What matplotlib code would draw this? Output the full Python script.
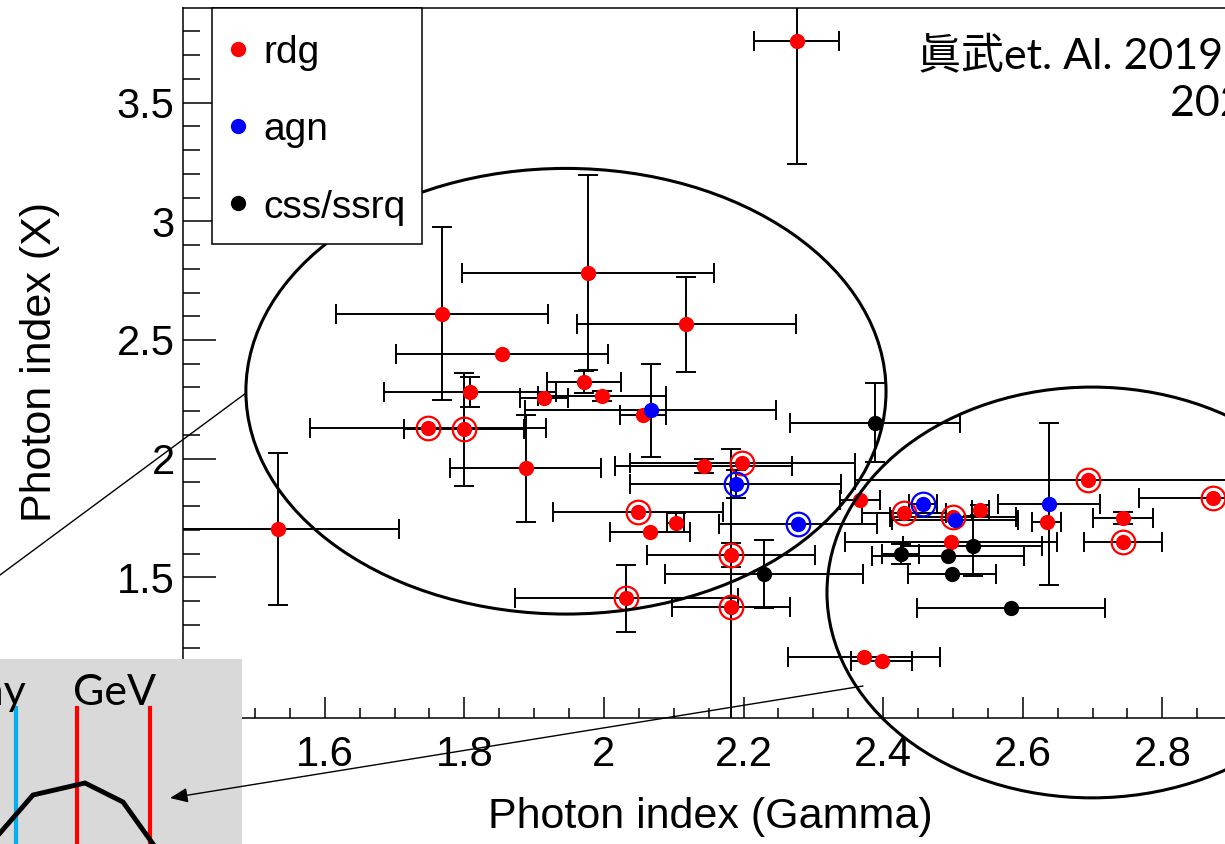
import matplotlib
matplotlib.use("Agg")
import matplotlib.pyplot as plt
from matplotlib.patches import Ellipse, Rectangle
from matplotlib.ticker import MultipleLocator, FuncFormatter

# ---- data: photon index (Gamma) vs photon index (X) ----
rdg_x = [2.276, 1.977, 2.118, 1.768, 1.854, 1.808, 1.914, 1.971, 1.997, 2.056,
         1.748, 1.800, 1.888, 1.533, 2.143, 2.198, 2.049, 2.103, 2.066, 2.182,
         2.182, 2.032, 2.373, 2.398, 2.367, 2.430, 2.500, 2.539, 2.634, 2.694,
         2.872, 2.743, 2.743, 2.497]
rdg_y = [3.762, 2.784, 2.566, 2.611, 2.439, 2.279, 2.255, 2.323, 2.263, 2.183,
         2.127, 2.123, 1.959, 1.704, 1.970, 1.980, 1.776, 1.730, 1.692, 1.594,
         1.373, 1.411, 1.165, 1.149, 1.825, 1.772, 1.755, 1.783, 1.734, 1.912,
         1.832, 1.751, 1.647, 1.650]
rdg_xerr = [0.061, 0.180, 0.157, 0.152, 0.152, 0.123, 0.034, 0.053, 0.092, 0.033,
            0.169, 0.086, 0.108, 0.173, 0.127, 0.161, 0.122, 0.012, 0.058, 0.120,
            0.085, 0.160, 0.109, 0.044, 0.029, 0.060, 0.090, 0.012, 0.021, 0.334,
            0.106, 0.043, 0.056, 0.152]
rdg_yerr = [0.52, 0.41, 0.20, 0.365, 0.0, 0.063, 0.0, 0.045, 0.02, 0.0,
            0.0, 0.238, 0.224, 0.32, 0.03, 0.0, 0.0, 0.04, 0.0, 0.05,
            0.669, 0.14, 0.0, 0.0, 0.0, 0.0, 0.0, 0.02, 0.0, 0.0,
            0.0, 0.025, 0.0, 0.0]
rdg_flag = [0, 0, 0, 0, 0, 0, 0, 0, 0, 0,
            1, 1, 0, 0, 0, 1, 1, 0, 0, 1,
            1, 1, 0, 0, 0, 1, 1, 0, 0, 1,
            1, 0, 1, 0]

agn_x = [2.067, 2.189, 2.278, 2.457, 2.503, 2.637]
agn_y = [2.203, 1.893, 1.724, 1.808, 1.741, 1.808]
agn_xerr = [0.180, 0.151, 0.113, 0.020, 0.090, 0.073]
agn_yerr = [0.195, 0.060, 0.0, 0.0, 0.0, 0.342]
agn_flag = [0, 1, 1, 1, 0, 0]

css_x = [2.388, 2.229, 2.425, 2.493, 2.528, 2.499, 2.583]
css_y = [2.152, 1.514, 1.598, 1.589, 1.632, 1.514, 1.369]
css_xerr = [0.122, 0.142, 0.027, 0.109, 0.100, 0.063, 0.135]
css_yerr = [0.167, 0.143, 0.044, 0.0, 0.126, 0.0, 0.0]

series_names = ["rdg", "agn", "css/ssrq"]
series_colors = ["#ff0000", "#0000ff", "#000000"]

# schematic SED sketch in the corner panel (panel pixel units)
sed_x = [0, 33, 85, 123, 153]
sed_y = [174, 136, 124, 143, 185]

W, H = 1225, 844
fig = plt.figure(figsize=(W / 100, H / 100), dpi=100)
fig.patch.set_facecolor("white")

HELV = "Liberation Sans"


def fx(px):
    return px / W


def fy(py):
    return 1 - py / H


ax = fig.add_axes([fx(183), fy(718), (1302 - 183) / W, (718 - 8) / H])
ax.set_xlim(1.397, 3.0)
ax.set_ylim(0.907, 3.899)

for side in ["top", "bottom", "left"]:
    ax.spines[side].set_linewidth(1.1)
ax.spines["right"].set_visible(False)

ax.xaxis.set_major_locator(MultipleLocator(0.2))
ax.xaxis.set_minor_locator(MultipleLocator(0.05))
ax.yaxis.set_major_locator(MultipleLocator(0.5))
ax.yaxis.set_minor_locator(MultipleLocator(0.1))
# labels that fall under the corner panel or past the page edge are left blank
ax.xaxis.set_major_formatter(FuncFormatter(
    lambda v, p: "%g" % round(v, 2) if 1.5 < v < 2.9 else ""))
ax.yaxis.set_major_formatter(FuncFormatter(
    lambda v, p: "%g" % round(v, 2) if v > 1.2 else ""))

ax.tick_params(axis="x", which="major", direction="in", length=15, width=1.1,
               labelsize=30, pad=12, top=False)
ax.tick_params(axis="x", which="minor", direction="in", length=7.5, width=1.1, top=False)
ax.tick_params(axis="y", which="major", direction="in", length=24, width=1.1,
               labelsize=30, pad=6, right=False)
ax.tick_params(axis="y", which="minor", direction="in", length=12, width=1.1, right=False)
for lab in ax.get_xticklabels() + ax.get_yticklabels():
    lab.set_family(HELV)

err_kw = dict(fmt="none", ecolor="black", elinewidth=1.4, capsize=7, capthick=1.4, zorder=2)
mk_kw = dict(ms=11, mew=0, zorder=3, linestyle="none")
ring_kw = dict(ms=17, mew=1.6, mfc="none", zorder=3, linestyle="none")

groups = [
    (rdg_x, rdg_y, rdg_xerr, rdg_yerr, rdg_flag),
    (agn_x, agn_y, agn_xerr, agn_yerr, agn_flag),
    (css_x, css_y, css_xerr, css_yerr, [0] * len(css_x)),
]
for (gx, gy, gxe, gye, gfl), col in zip(groups, series_colors):
    ax.errorbar(gx, gy, xerr=gxe, yerr=gye, **err_kw)
    ax.plot(gx, gy, "o", color=col, **mk_kw)
    cx = [a for a, f in zip(gx, gfl) if f]
    cy = [b for b, f in zip(gy, gfl) if f]
    if cx:
        ax.plot(cx, cy, "o", mec=col, **ring_kw)

# grouping ellipses
ax.add_patch(Ellipse((1.9456, 2.284), 0.917, 1.878, fill=False, lw=2.2,
                     ec="black", clip_on=False, zorder=5))
ax.add_patch(Ellipse((2.699, 1.436), 0.759, 1.731, fill=False, lw=2.2,
                     ec="black", clip_on=False, zorder=5))

# axis titles
fig.text(fx(710), fy(828), "Photon index (Gamma)", ha="center", va="baseline",
         fontsize=31, family=HELV)
fig.text(fx(40), fy(362), "Photon index (X)", ha="center", va="center",
         rotation=90, fontsize=31, family=HELV)

# citation
cite_fam = ["Lato", "Noto Sans CJK JP"]
fig.text(fx(918), fy(69), "眞武et. Al. 2019", ha="left", va="baseline",
         fontsize=31, family=cite_fam)
fig.text(fx(1170), fy(116), "2021", ha="left", va="baseline",
         fontsize=31, family=cite_fam)

# corner panel with the SED sketch
ins = fig.add_axes([0, 0, 242 / W, (844 - 659) / H])
ins.set_xlim(0, 242)
ins.set_ylim(185, 0)
ins.set_facecolor("#d9d9d9")
for s in ins.spines.values():
    s.set_visible(False)
ins.set_xticks([])
ins.set_yticks([])
ins.plot([16, 16], [49, 185], color="#00b0f0", lw=3)
ins.plot([77, 77], [49, 185], color="#ff0000", lw=3)
ins.plot([150, 150], [49, 185], color="#ff0000", lw=3)
ins.plot(sed_x, sed_y, color="black", lw=3.5, solid_joinstyle="miter")
ins.text(115, 46, "GeV", ha="center", va="baseline", fontsize=31, family="Lato")
ins.text(26, 46, "X-ray", ha="right", va="baseline", fontsize=31, family="Lato")

# overlay for the legend and connector lines
ov = fig.add_axes([0, 0, 1, 1])
ov.set_xlim(0, W)
ov.set_ylim(H, 0)
ov.axis("off")
leg_ys = [49, 126, 203]
leg_base = [63, 140, 218]
ov.add_patch(Rectangle((212, 8), 210, 236, fc="white", ec="black", lw=1.1, zorder=6))
for name, col, yc, yb in zip(series_names, series_colors, leg_ys, leg_base):
    ov.plot([238], [yc], "o", color=col, ms=11, mew=0, zorder=7)
    ov.text(263, yb, name, ha="left", va="baseline", fontsize=28, family=HELV, zorder=7)
ov.plot([246, 0], [393, 575], color="black", lw=1.0)
ov.annotate("", xy=(170, 798), xytext=(863, 686),
            arrowprops=dict(arrowstyle="-|>,head_length=0.6,head_width=0.25",
                            color="black", lw=1.0, mutation_scale=18,
                            shrinkA=0, shrinkB=0))

fig.savefig("out.png", dpi=100)
